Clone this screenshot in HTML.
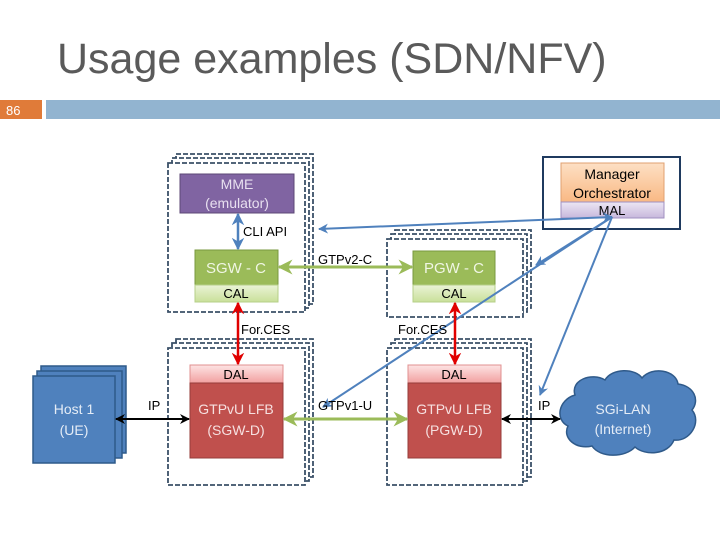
<!DOCTYPE html>
<html><head><meta charset="utf-8"><style>
html,body{margin:0;padding:0;background:#fff;width:720px;height:540px;overflow:hidden}
svg{display:block}
text{font-family:"Liberation Sans","DejaVu Sans",sans-serif}
</style></head><body>
<svg width="720" height="540" viewBox="0 0 720 540" xmlns="http://www.w3.org/2000/svg">
<defs>
<marker id="ab" viewBox="0 0 10 10" refX="9" refY="5" markerWidth="5" markerHeight="5" orient="auto-start-reverse"><path d="M0,0 L10,5 L0,10 L3,5 z" fill="#4f81bd"/></marker>
<marker id="ar" viewBox="0 0 10 10" refX="9" refY="5" markerWidth="5" markerHeight="5" orient="auto-start-reverse"><path d="M0,0 L10,5 L0,10 L3,5 z" fill="#e00000"/></marker>
<marker id="ag" viewBox="0 0 10 10" refX="9" refY="5" markerWidth="5" markerHeight="5" orient="auto-start-reverse"><path d="M0,0 L10,5 L0,10 L3,5 z" fill="#9bbb59"/></marker>
<marker id="ak" viewBox="0 0 10 10" refX="9" refY="5" markerWidth="5" markerHeight="5" orient="auto-start-reverse"><path d="M0,0 L10,5 L0,10 L3,5 z" fill="#000"/></marker>
<linearGradient id="gcal" x1="0" y1="0" x2="0" y2="1"><stop offset="0" stop-color="#eaf3d6"/><stop offset="1" stop-color="#c9e09a"/></linearGradient>
<linearGradient id="gdal" x1="0" y1="0" x2="0" y2="1"><stop offset="0" stop-color="#fde4e4"/><stop offset="1" stop-color="#f2a0a0"/></linearGradient>
<linearGradient id="gmgr" x1="0" y1="0" x2="0" y2="1"><stop offset="0" stop-color="#fde0c4"/><stop offset="1" stop-color="#f9b984"/></linearGradient>
<linearGradient id="gmal" x1="0" y1="0" x2="0" y2="1"><stop offset="0" stop-color="#ece6f4"/><stop offset="1" stop-color="#c7b8dc"/></linearGradient>
</defs>

<text x="57" y="73" font-size="43" fill="#5a5a5a">Usage examples (SDN/NFV)</text>
<rect x="0" y="100" width="42" height="19" fill="#e07b39"/>
<text x="6" y="115" font-size="13" fill="#fff" font-family="Liberation Serif,serif">86</text>
<rect x="46" y="100" width="674" height="19" fill="#92b4d0"/>

<g fill="#fff" stroke="#3b5068" stroke-width="1.8" stroke-dasharray="5,2">
<rect x="176" y="154" width="137" height="150"/>
<rect x="172" y="158" width="137" height="150"/>
<rect x="168" y="163" width="137" height="149"/>
<rect x="395" y="230" width="136" height="78"/>
<rect x="391" y="234" width="136" height="78"/>
<rect x="387" y="239" width="136" height="78"/>
<rect x="176" y="339" width="137" height="138"/>
<rect x="172" y="343" width="137" height="138"/>
<rect x="168" y="348" width="137" height="137"/>
<rect x="395" y="339" width="136" height="138"/>
<rect x="391" y="343" width="136" height="138"/>
<rect x="387" y="348" width="136" height="137"/>
</g>

<rect x="180" y="174" width="114" height="39" fill="#8064a2" stroke="#5c4776"/>
<text x="237" y="189" font-size="14" fill="#e8e0f0" text-anchor="middle">MME</text>
<text x="237" y="208" font-size="14" fill="#e8e0f0" text-anchor="middle">(emulator)</text>

<rect x="195" y="250" width="83" height="35" fill="#9bbb59" stroke="#7a9a40"/>
<text x="236" y="273" font-size="15" fill="#f0f6e4" text-anchor="middle">SGW - C</text>
<rect x="195" y="285" width="83" height="17" fill="url(#gcal)" stroke="#b6cf88"/>
<text x="236" y="298" font-size="13" fill="#000" text-anchor="middle">CAL</text>

<rect x="413" y="251" width="82" height="34" fill="#9bbb59" stroke="#7a9a40"/>
<text x="454" y="273" font-size="15" fill="#f0f6e4" text-anchor="middle">PGW - C</text>
<rect x="413" y="285" width="82" height="17" fill="url(#gcal)" stroke="#b6cf88"/>
<text x="454" y="298" font-size="13" fill="#000" text-anchor="middle">CAL</text>

<rect x="543" y="157" width="137" height="72" fill="#fff" stroke="#1f3a5f" stroke-width="2"/>
<rect x="561" y="163" width="103" height="39" fill="url(#gmgr)" stroke="#e0a070"/>
<text x="612" y="179" font-size="14" fill="#000" text-anchor="middle">Manager</text>
<text x="612" y="198" font-size="14" fill="#000" text-anchor="middle">Orchestrator</text>
<rect x="561" y="202" width="103" height="16" fill="url(#gmal)" stroke="#a090c0"/>
<text x="612" y="215" font-size="13" fill="#000" text-anchor="middle">MAL</text>

<rect x="41" y="366" width="85" height="87" fill="#4f81bd" stroke="#2f5a8a" stroke-width="1.5"/>
<rect x="37" y="371" width="85" height="87" fill="#4f81bd" stroke="#2f5a8a" stroke-width="1.5"/>
<rect x="33" y="376" width="82" height="87" fill="#4f81bd" stroke="#2f5a8a" stroke-width="1.5"/>
<text x="74" y="414" font-size="14" fill="#e4ecf6" text-anchor="middle">Host 1</text>
<text x="74" y="435" font-size="14" fill="#e4ecf6" text-anchor="middle">(UE)</text>

<rect x="190" y="365" width="93" height="18" fill="url(#gdal)" stroke="#e09090"/>
<text x="236" y="379" font-size="13" fill="#000" text-anchor="middle">DAL</text>
<rect x="190" y="383" width="93" height="75" fill="#c0504d" stroke="#963c3a"/>
<text x="236" y="414" font-size="14" fill="#f6e0e0" text-anchor="middle">GTPvU LFB</text>
<text x="236" y="435" font-size="14" fill="#f6e0e0" text-anchor="middle">(SGW-D)</text>

<rect x="408" y="365" width="93" height="18" fill="url(#gdal)" stroke="#e09090"/>
<text x="454" y="379" font-size="13" fill="#000" text-anchor="middle">DAL</text>
<rect x="408" y="383" width="93" height="75" fill="#c0504d" stroke="#963c3a"/>
<text x="454" y="414" font-size="14" fill="#f6e0e0" text-anchor="middle">GTPvU LFB</text>
<text x="454" y="435" font-size="14" fill="#f6e0e0" text-anchor="middle">(PGW-D)</text>

<path d="M575,395 C570,380 592,372 605,380 C612,368 635,368 642,378 C652,366 676,370 678,384 C694,386 700,400 692,410 C702,422 690,442 674,440 C668,455 645,456 635,447 C625,458 600,458 592,446 C576,450 562,438 568,426 C555,420 558,400 575,395 Z" fill="#4f81bd" stroke="#2f5a8a" stroke-width="1.5"/>
<text x="623" y="414" font-size="14" fill="#e4ecf6" text-anchor="middle">SGi-LAN</text>
<text x="623" y="434" font-size="14" fill="#e4ecf6" text-anchor="middle">(Internet)</text>

<g stroke="#4f81bd" stroke-width="2.5" fill="none">
<line x1="238" y1="214" x2="238" y2="249" marker-start="url(#ab)" marker-end="url(#ab)"/>
</g>
<g stroke="#4f81bd" stroke-width="2" fill="none">
<line x1="612" y1="217" x2="319" y2="229" marker-start="url(#ab)" marker-end="url(#ab)"/>
<line x1="612" y1="217" x2="536" y2="265" marker-end="url(#ab)"/>
<line x1="612" y1="217" x2="540" y2="395" marker-end="url(#ab)"/>
<line x1="612" y1="217" x2="323" y2="407" marker-end="url(#ab)"/>
</g>
<g stroke="#9bbb59" stroke-width="3" fill="none">
<line x1="279" y1="267" x2="412" y2="267" marker-start="url(#ag)" marker-end="url(#ag)"/>
<line x1="284" y1="419" x2="407" y2="419" marker-start="url(#ag)" marker-end="url(#ag)"/>
</g>
<g stroke="#e00000" stroke-width="2.5" fill="none">
<line x1="238" y1="303" x2="238" y2="364" marker-start="url(#ar)" marker-end="url(#ar)"/>
<line x1="455" y1="303" x2="455" y2="364" marker-start="url(#ar)" marker-end="url(#ar)"/>
</g>
<g stroke="#000" stroke-width="2" fill="none">
<line x1="116" y1="419" x2="189" y2="419" marker-start="url(#ak)" marker-end="url(#ak)"/>
<line x1="502" y1="419" x2="560" y2="419" marker-start="url(#ak)" marker-end="url(#ak)"/>
</g>

<g font-size="13" fill="#000">
<text x="243" y="236">CLI API</text>
<text x="318" y="264">GTPv2-C</text>
<text x="241" y="334">For.CES</text>
<text x="398" y="334">For.CES</text>
<text x="148" y="410">IP</text>
<text x="318" y="410">GTPv1-U</text>
<text x="538" y="410">IP</text>
</g>
</svg>
</body></html>
